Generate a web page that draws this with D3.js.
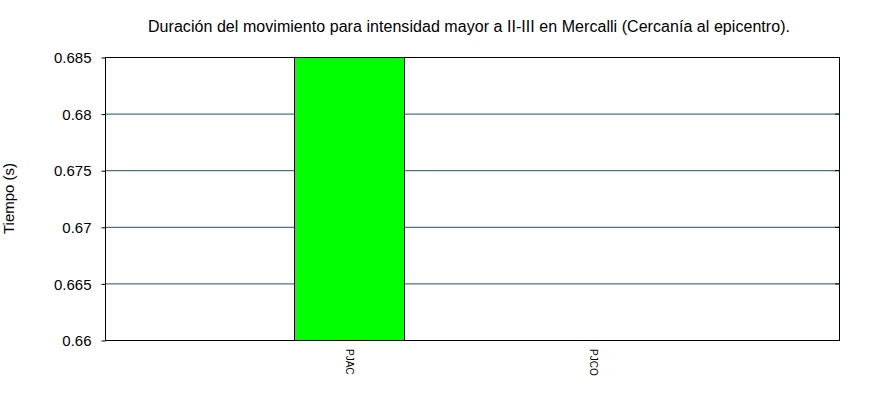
<!DOCTYPE html>
<html><head><meta charset="utf-8">
<script src="https://cdn.jsdelivr.net/npm/d3@7"></script>
<style>body{margin:0;background:#fff}svg{display:block}text{font-family:"Liberation Sans",Arial,sans-serif;fill:#000}</style>
</head><body><svg id="c" width="870" height="400"></svg>
<script>
const title = "Duración del movimiento para intensidad mayor a II-III en Mercalli (Cercanía al epicentro).";
const yLabel = "Tiempo (s)";
const categories = ["PJAC", "PJCO"];
const values = [0.70, 0.65];
const yTicks = [0.66, 0.665, 0.67, 0.675, 0.68, 0.685];
const yDomain = [0.66, 0.685];

const svg = d3.select("#c");
const L = 105, R = 839, T = 57, B = 340;
const x = d3.scalePoint().domain(["", ...categories, " "]).range([L, R]);
const y = d3.scaleLinear().domain(yDomain).range([B, T]);
const barW = 110;

svg.append("text").attr("x", 469).attr("y", 32).attr("text-anchor", "middle")
  .style("font-size", "16px").attr("textLength", 642).attr("lengthAdjust", "spacing").text(title);

// gridlines
svg.append("g").selectAll("line").data(yTicks.slice(1, -1)).join("line")
  .attr("x1", L).attr("x2", R).attr("y1", d => y(d) + 0.5).attr("y2", d => y(d) + 0.5)
  .attr("stroke", "#1f4f6f").attr("stroke-width", 1);

svg.append("defs").append("clipPath").attr("id", "clip").append("rect")
  .attr("x", L).attr("y", T).attr("width", R - L).attr("height", B - T);

svg.append("g").attr("clip-path", "url(#clip)").selectAll("rect").data(categories).join("rect")
  .attr("x", d => Math.round(x(d) - barW / 2) - 0.5)
  .attr("width", barW)
  .attr("y", (d, i) => Math.min(y(values[i]), B) + 0.5)
  .attr("height", (d, i) => Math.max(0, B - y(values[i])))
  .attr("fill", "#00ff00").attr("stroke", "#000").attr("stroke-width", 1);

// frame
svg.append("rect").attr("x", L + 0.5).attr("y", T + 0.5).attr("width", R - L).attr("height", B - T)
  .attr("fill", "none").attr("stroke", "#000").attr("stroke-width", 1);

// y axis
const ya = d3.axisLeft(y).tickValues(yTicks).tickSize(4).tickPadding(10).tickFormat(d3.format(""));
const gy = svg.append("g").attr("transform", `translate(${L + 0.5},0.5)`).call(ya);
gy.select(".domain").remove();
gy.selectAll("text").style("font-size", "15px").attr("fill", "#000").attr("dy", "0.35em");
gy.selectAll("line").attr("stroke", "#000");
// right ticks
svg.append("g").selectAll("line").data(yTicks).join("line")
  .attr("x1", R - 4).attr("x2", R).attr("y1", d => y(d) + 0.5).attr("y2", d => y(d) + 0.5)
  .attr("stroke", "#000");

// x labels
svg.append("g").selectAll("text").data(categories).join("text")
  .attr("transform", d => `translate(${x(d) - 4},${B + 9}) rotate(90)`)
  .attr("text-anchor", "start").style("font-size", "10px").text(d => d);

svg.append("text").attr("transform", `translate(14,${(T + B) / 2}) rotate(-90)`)
  .attr("text-anchor", "middle").style("font-size", "15px").text(yLabel);
</script></body></html>
